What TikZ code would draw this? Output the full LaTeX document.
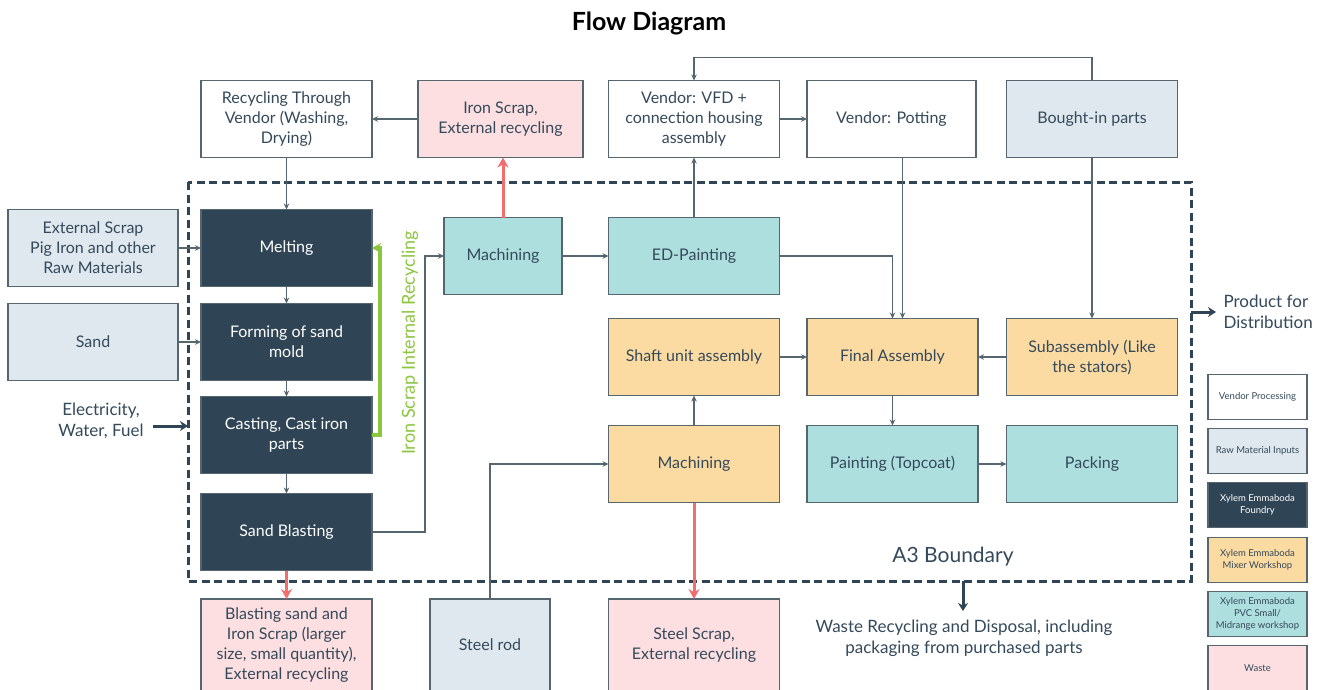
\documentclass[tikz,border=0pt]{standalone}
\usepackage{fontspec}
\setmainfont{Lato}
\usetikzlibrary{arrows.meta}
\definecolor{navy}{HTML}{2F4454}
\definecolor{raw}{HTML}{DFE8EE}
\definecolor{teal}{HTML}{AEDFDF}
\definecolor{mixer}{HTML}{FBDBA2}
\definecolor{waste}{HTML}{FDDFE1}
\definecolor{edge}{HTML}{56666F}
\definecolor{txt}{HTML}{34495A}
\definecolor{grn}{HTML}{8CC63F}
\definecolor{redarr}{HTML}{F26D6D}
\tikzset{
  box/.style={draw=edge, line width=1.2pt, outer sep=0pt, inner sep=2pt, align=center,
    text=txt, font=\fontsize{16}{20}\selectfont},
  bw/.style={minimum width=171pt, minimum height=77pt},
  vbox/.style={box, bw, fill=white},
  rbox/.style={box, bw, fill=raw},
  fbox/.style={box, bw, fill=navy, text=white},
  tbox/.style={box, bw, fill=teal},
  obox/.style={box, bw, fill=mixer},
  wbox/.style={box, bw, fill=waste},
  lbox/.style={box, minimum width=99pt, minimum height=45pt, font=\fontsize{9.5}{12}\selectfont},
  arr/.style={draw=edge, line width=1.2pt, -{Stealth[length=6pt,width=5.5pt]}},
  tarr/.style={draw=navy, line width=3pt, -{Stealth[length=8pt,width=10pt]}},
  rarr/.style={draw=redarr, line width=3pt, -{Stealth[length=10pt,width=11pt]}},
  garr/.style={draw=grn, line width=3.2pt, -{Stealth[length=9pt,width=10pt]}},
  plain/.style={text=txt, align=center, font=\fontsize{16}{20}\selectfont},
}
\begin{document}
\begin{tikzpicture}[x=1pt,y=-1pt]
\useasboundingbox (0,0) rectangle (1325,690);
\fill[white] (0,0) rectangle (1325,690);

\node[font=\bfseries\fontsize{25}{29}\selectfont, text=black] (title) at (649,23) {Flow Diagram};

% boundary
\draw[navy, line width=3pt, dash pattern=on 8pt off 4.5pt] (188,182) rectangle (1191,581);
\node[plain, font=\fontsize{21}{25}\selectfont] (a3) at (953,557) {A3 Boundary};

% top row
\node[vbox] (rv) at (286.5,119) {Recycling Through\\Vendor (Washing,\\Drying)};
\node[wbox, minimum width=165pt] (isc) at (500.5,119) {Iron Scrap,\\External recycling};
\node[vbox] (vfd) at (694,119) {Vendor: VFD +\\connection housing\\assembly};
\node[vbox, minimum width=169pt] (pot) at (891.5,119) {Vendor: Potting};
\node[rbox] (bought) at (1092,119) {Bought-in parts};

% inputs
\node[rbox, minimum width=170pt] (ext) at (93,248) {External Scrap\\Pig Iron and other\\Raw Materials};
\node[rbox, minimum width=170pt] (sand) at (93,342) {Sand};
\node[plain, font=\fontsize{17}{21}\selectfont] (elec) at (101,421) {Electricity,\\Water, Fuel};
\coordinate (eb) at (188,426);

% foundry
\node[fbox] (melt) at (286.5,248) {Melting};
\node[fbox] (form) at (286.5,342) {Forming of sand\\mold};
\node[fbox] (cast) at (286.5,435) {Casting, Cast iron\\parts};
\node[fbox] (sb) at (286.5,532) {Sand Blasting};

% machining / painting
\node[tbox, minimum width=118pt] (m1) at (503,256) {Machining};
\node[tbox] (ed) at (694,256) {ED-Painting};

% mixer row
\node[obox] (shaft) at (694,357) {Shaft unit assembly};
\node[obox] (fa) at (892.5,357) {Final Assembly};
\node[obox] (sub) at (1092,357) {Subassembly (Like\\the stators)};
\node[obox] (m2) at (694,464) {Machining};
\node[tbox] (paint) at (892.5,464) {Painting (Topcoat)};
\node[tbox] (pack) at (1092,464) {Packing};

% bottom row
\node[wbox, minimum height=92pt] (bsc) at (286.5,645) {Blasting sand and\\Iron Scrap (larger\\size, small quantity),\\External recycling};
\node[rbox, minimum width=120pt, minimum height=92pt] (steel) at (490,645) {Steel rod};
\node[wbox, minimum height=92pt] (ssc) at (694,645) {Steel Scrap,\\External recycling};
\node[plain, font=\fontsize{17}{21}\selectfont] (wastetxt) at (964,638) {Waste Recycling and Disposal, including\\packaging from purchased parts};
\coordinate (wb) at (963,581);
\coordinate (wt) at (963,611);

% product
\node[plain, align=left, anchor=west, font=\fontsize{17}{21}\selectfont] (prod) at (1220,312) {Product for\\Distribution};
\coordinate (pb) at (1191,312);

% green label
\node[text=grn, rotate=90, font=\fontsize{18}{22}\selectfont] (irl) at (410,343) {Iron Scrap Internal Recycling};

% legend
\node[lbox, fill=white] (l1) at (1257.5,397) {Vendor Processing};
\node[lbox, fill=raw] (l2) at (1257.5,451) {Raw Material Inputs};
\node[lbox, fill=navy, text=white] (l3) at (1257.5,505) {Xylem Emmaboda\\Foundry};
\node[lbox, fill=mixer] (l4) at (1257.5,560) {Xylem Emmaboda\\Mixer Workshop};
\node[lbox, fill=teal] (l5) at (1257.5,614) {Xylem Emmaboda\\PVC Small/\\Midrange workshop};
\node[lbox, fill=waste] (l6) at (1257.5,668) {Waste};

% connectors
\draw[arr] (isc.west) -- (rv.east);
\draw[arr] (rv.south) -- (melt.north);
\draw[arr] (vfd.east) -- (pot.west);
\draw[arr] (bought.north) -- ++(0,-23) -| (vfd.north);
\draw[arr] (ext.east) -- (melt.west);
\draw[arr] (sand.east) -- (form.west);
\draw[tarr] (elec.east) ++(6,5) -- (eb);
\draw[arr] (melt.south) -- (form.north);
\draw[arr] (form.south) -- (cast.north);
\draw[arr] (cast.south) -- (sb.north);
\draw[garr] (cast.east) -- ++(8,0) |- (melt.east);
\draw[arr] (sb.east) -- ++(53,0) |- (m1.west);
\draw[rarr] (m1.north) -- (m1.north |- isc.south);
\draw[arr] (m1.east) -- (ed.west);
\draw[arr] (ed.north) -- (vfd.south);
\draw[arr] (ed.east) -| (fa.north);
\draw[arr] ([xshift=11pt]pot.south) -- ([xshift=10pt]fa.north);
\draw[arr] (bought.south) -- (sub.north);
\draw[arr] (shaft.east) -- (fa.west);
\draw[arr] (sub.west) -- (fa.east);
\draw[arr] (m2.north) -- (shaft.south);
\draw[arr] (fa.south) -- (paint.north);
\draw[arr] (paint.east) -- (pack.west);
\draw[arr] (steel.north) |- (m2.west);
\draw[rarr] (m2.south) -- (ssc.north);
\draw[rarr] (sb.south) -- (bsc.north);
\draw[tarr] (wb) -- (wt);
\draw[tarr] (pb) -- ([xshift=-4pt]prod.west);
\end{tikzpicture}
\end{document}
